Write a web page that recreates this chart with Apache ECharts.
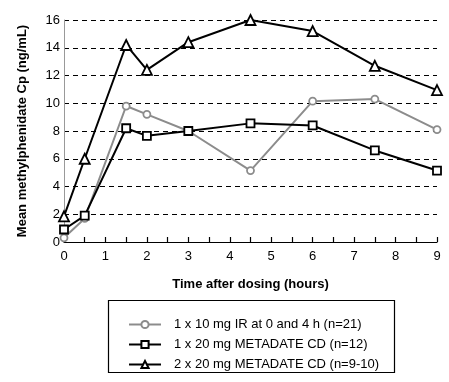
<!DOCTYPE html>
<html><head><meta charset="utf-8">
<script src="https://cdn.jsdelivr.net/npm/echarts@6/dist/echarts.min.js"></script>
<style>html,body{margin:0;padding:0;background:#fff}#c{width:449px;height:382px}</style>
</head><body><div id="c"></div>
<script>
const times = [0, 0.5, 1.5, 2, 3, 4.5, 6, 7.5, 9];
const irValues = [0.3, 1.7, 9.8, 9.2, 8.0, 5.15, 10.15, 10.3, 8.1];
const cd20Values = [0.9, 1.9, 8.2, 7.65, 8.0, 8.55, 8.4, 6.6, 5.15];
const cd40Values = [1.85, 6.0, 14.2, 12.4, 14.4, 16.0, 15.2, 12.7, 10.95];
const seriesNames = ['1 x 10 mg IR at 0 and 4 h (n=21)', '1 x 20 mg METADATE CD (n=12)', '2 x 20 mg METADATE CD (n=9-10)'];
const xTitle = 'Time after dosing (hours)';
const yTitle = 'Mean methylphenidate Cp (ng/mL)';

const font = 'Liberation Sans, Arial, sans-serif';
const pair = v => times.map((t, i) => [t, v[i]]);
const chart = echarts.init(document.getElementById('c'));
const mk = (name, data, color, symbol, size) => ({
  name, type: 'line', data: pair(data), symbol, symbolSize: size,
  showAllSymbol: true,
  lineStyle: { color, width: 2 },
  itemStyle: { color: '#fff', borderColor: color, borderWidth: 1.8 },
  emphasis: { disabled: true }, z: 3
});
chart.setOption({
  animation: false,
  grid: { left: 64, right: 12, top: 20, bottom: 140 },
  xAxis: {
    type: 'value', min: 0, max: 9, interval: 1,
    name: xTitle, nameLocation: 'middle', nameGap: 36,
    nameTextStyle: { fontFamily: font, fontWeight: 'bold', fontSize: 13, color: '#000' },
    axisLine: { show: true, lineStyle: { color: '#000', width: 1.2 } },
    axisTick: { show: true, inside: true, length: 5, lineStyle: { color: '#000', width: 1.2 } },
    minorTick: { show: true, splitNumber: 2, length: 5, lineStyle: { color: '#000', width: 1.2 } },
    axisLabel: { fontFamily: font, fontSize: 13, color: '#000', margin: 8 },
    splitLine: { show: false }
  },
  yAxis: {
    type: 'value', min: 0, max: 16, interval: 2,
    name: yTitle, nameLocation: 'middle', nameGap: 35,
    nameTextStyle: { fontFamily: font, fontWeight: 'bold', fontSize: 13, color: '#000' },
    axisLine: { show: true, lineStyle: { color: '#999', width: 1 } }, axisTick: { show: false },
    axisLabel: { fontFamily: font, fontSize: 13, color: '#000', margin: 4 },
    splitLine: { show: true, lineStyle: { color: '#000', type: [5, 4], width: 1 } }
  },
  legend: {
    orient: 'vertical', left: 123, top: 313, itemWidth: 32, itemHeight: 9, itemGap: 7,
    textStyle: { fontFamily: font, fontSize: 13, color: '#000', padding: [0, 0, 0, 8] },
    data: seriesNames
  },
  graphic: [{ type: 'rect', shape: { x: 108.5, y: 300.5, width: 286, height: 72 },
    style: { fill: 'none', stroke: '#000', lineWidth: 1.2 } }],
  series: [
    mk(seriesNames[0], irValues, '#8c8c8c', 'circle', 7),
    mk(seriesNames[1], cd20Values, '#000', 'rect', 8),
    mk(seriesNames[2], cd40Values, '#000', 'triangle', 10)
  ]
});
</script></body></html>
